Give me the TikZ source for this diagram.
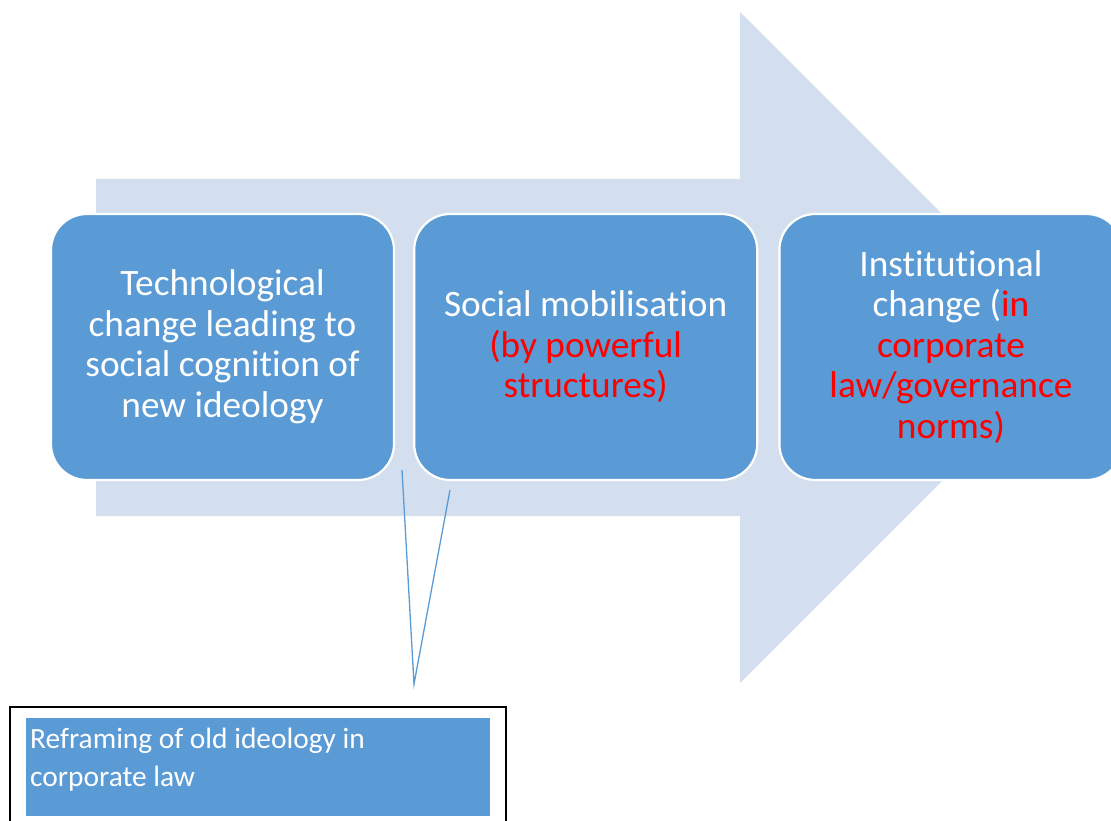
\documentclass[tikz,border=0pt]{standalone}
\usepackage{fontspec}
\setmainfont[Ligatures=NoCommon]{Carlito}
\usepackage{tikz}
\usetikzlibrary{positioning}
\definecolor{shaft}{HTML}{D3DEEF}
\definecolor{stage}{HTML}{5B9BD5}
\definecolor{hot}{HTML}{FF0000}

\begin{document}
\begin{tikzpicture}[x=1pt,y=-1pt,node distance=18pt,
 stagebox/.style={draw=white,line width=2.2pt,fill=stage,align=center,
 rounded corners=36pt,minimum width=343pt,minimum height=266pt,
 text=white,font=\fontsize{37.3}{40.5}\selectfont},
 note/.style={fill=stage,text=white,align=flush left,anchor=north west,
 text width=456pt,inner xsep=4pt,inner ysep=4pt,text height=26pt,text depth=64pt,
 font=\fontsize{29.4}{38}\selectfont},
 callout/.style={draw=stage,line width=1.3pt}]
\useasboundingbox (0,0) rectangle (1111,821);
% wide background arrow
\fill[shaft] (96,179) -- (740,179) -- (740,12) -- (1075.5,347.5)
 -- (740,683) -- (740,516) -- (96,516) -- cycle;
% the three stages
\node[stagebox] (tech) at (222.5,347) {Technological\\change leading to\\social cognition of\\new ideology};
\node[stagebox,right=of tech] (mob) {Social mobilisation\\\textcolor{hot}{(by powerful}\\\textcolor{hot}{structures)}};
\node[stagebox,right=20pt of mob] (inst) {Institutional\\change (\textcolor{hot}{in}\\\textcolor{hot}{corporate}\\\textcolor{hot}{law/governance}\\\textcolor{hot}{norms)}};
% comment box
\draw[line width=1.8pt] (10,707) rectangle (506,840);
\node[note] (reframe) at (26,718) {Reframing of old ideology in\\corporate law};
\coordinate (ca) at (402,470);
\coordinate (cb) at (450,490);
\coordinate (tip) at (414,684);
\draw[callout] (ca) -- (tip) -- (cb);
\end{tikzpicture}
\end{document}
